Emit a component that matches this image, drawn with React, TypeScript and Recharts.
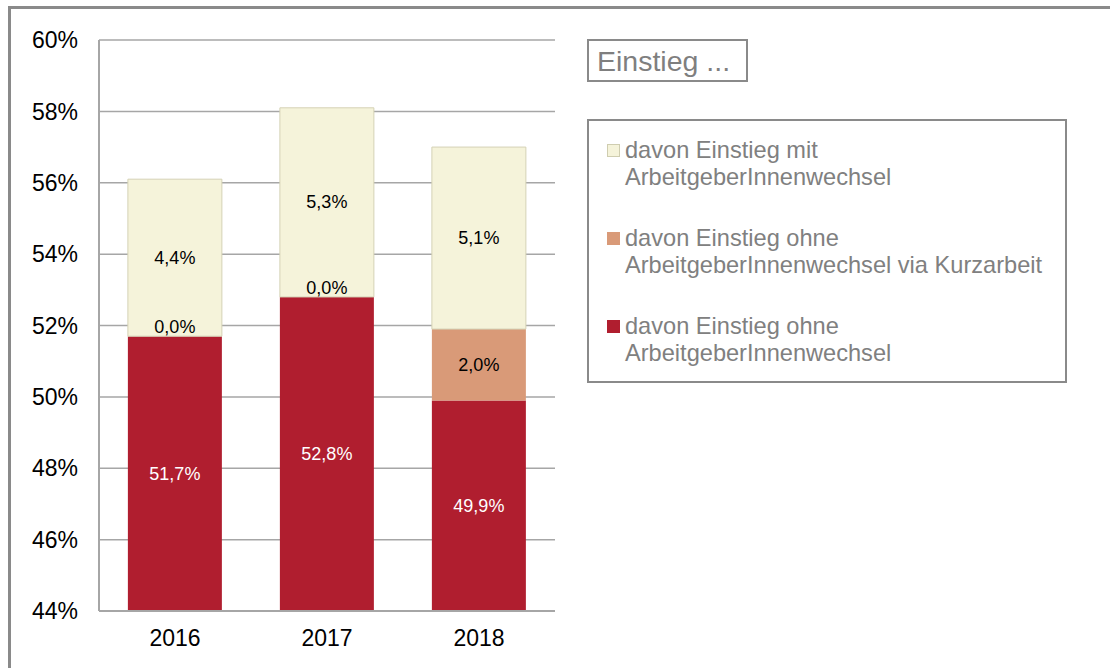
import React from "react";
import { BarChart, Bar, XAxis, YAxis, CartesianGrid, LabelList } from "recharts";

const years = ["2016", "2017", "2018"];
const ohneWechsel = [51.7, 52.8, 49.9];
const kurzarbeit = [0.0, 0.0, 2.0];
const mitWechsel = [4.4, 5.3, 5.1];
const yTicks = [44, 46, 48, 50, 52, 54, 56, 58, 60];
const yDomain = [44, 60];

const series = [
  { key: "mit", name: "davon Einstieg mit", name2: "ArbeitgeberInnenwechsel", color: "#f5f3da" },
  { key: "kurz", name: "davon Einstieg ohne", name2: "ArbeitgeberInnenwechsel via Kurzarbeit", color: "#d99a78" },
  { key: "ohne", name: "davon Einstieg ohne", name2: "ArbeitgeberInnenwechsel", color: "#b01e2f" },
];

const data = years.map((y, i) => ({
  year: y,
  ohne: ohneWechsel[i],
  kurz: kurzarbeit[i],
  mit: mitWechsel[i],
}));

const W = 1110;
const H = 668;
const margin = { top: 40, right: 555, bottom: 17, left: 39 };
const X_H = 40;
const plotTop = margin.top;
const plotBottom = H - margin.bottom - X_H;
const pxPerUnit = (plotBottom - plotTop) / (yDomain[1] - yDomain[0]);
const FONT = "'Liberation Sans', Arial, sans-serif";
const GRID = "#a6a6a6";

const fmt = (v: number) => v.toFixed(1).replace(".", ",") + "%";

function box(props: any) {
  const vb = props.viewBox ?? props;
  const x = Number(vb.x ?? props.x);
  const y = Number(vb.y ?? props.y);
  const w = Number(vb.width ?? props.width);
  const h = Number(vb.height ?? props.height);
  return { x, w, y0: Math.min(y, y + h), y1: Math.max(y, y + h) };
}

function valueText(cx: number, cy: number, value: number, color: string) {
  return (
    <text
      x={cx}
      y={cy}
      textAnchor="middle"
      dominantBaseline="central"
      fill={color}
      fontSize={18}
      fontFamily={FONT}
    >
      {fmt(value)}
    </text>
  );
}

// centred in the visible part of the segment
function makeLabel(color: string) {
  return (props: any) => {
    const b = box(props);
    const top = Math.max(b.y0, plotTop);
    const bottom = Math.min(b.y1, plotBottom);
    let cy = (top + bottom) / 2;
    if (bottom - top < 1) cy -= 9;
    return valueText(b.x + b.w / 2, cy, Number(props.value), color);
  };
}

// Kurzarbeit labels drawn with the top segment so they sit above it
function kurzLabel(props: any) {
  const b = box(props);
  const v = Number(props.value);
  const segH = v * pxPerUnit;
  let cy = b.y1 + segH / 2;
  if (segH < 1) cy -= 9;
  return valueText(b.x + b.w / 2, cy, v, "#000");
}

export default function App() {
  return (
    <div style={{ position: "absolute", left: 0, top: 0, width: W, height: H, overflow: "hidden", background: "#fff" }}>
      <div
        style={{
          position: "absolute",
          left: 8,
          top: 6,
          width: W,
          height: H + 20,
          borderLeft: "3px solid #8a8a8a",
          borderTop: "3px solid #8a8a8a",
        }}
      />
      <div style={{ position: "absolute", left: 0, top: 0 }}>
        <BarChart width={W} height={H} data={data} margin={margin} barCategoryGap="19%">
          <CartesianGrid vertical={false} stroke={GRID} strokeWidth={1.5} />
          <XAxis
            dataKey="year"
            height={X_H}
            tickLine={false}
            tickSize={0}
            tickMargin={19}
            axisLine={{ stroke: GRID, strokeWidth: 2 }}
            tick={{ fill: "#000", fontSize: 23, fontFamily: FONT }}
          />
          <YAxis
            domain={yDomain}
            ticks={yTicks}
            allowDataOverflow
            width={60}
            tickLine={false}
            tickSize={0}
            tickMargin={21}
            axisLine={{ stroke: GRID, strokeWidth: 2 }}
            tickFormatter={(v: number) => `${v}%`}
            tick={{ fill: "#000", fontSize: 23, fontFamily: FONT }}
          />
          <YAxis
            yAxisId="border"
            orientation="right"
            width={0}
            tick={false}
            tickLine={false}
            axisLine={{ stroke: GRID, strokeWidth: 2 }}
          />
          <Bar dataKey="ohne" stackId="a" fill="#b01e2f" isAnimationActive={false}>
            <LabelList dataKey="ohne" content={makeLabel("#fff")} />
          </Bar>
          <Bar dataKey="kurz" stackId="a" fill="#d99a78" isAnimationActive={false} />
          <Bar dataKey="mit" stackId="a" fill="#f5f3da" stroke="#d4d2b6" strokeWidth={1} isAnimationActive={false}>
            <LabelList dataKey="mit" content={makeLabel("#000")} />
            <LabelList dataKey="kurz" content={kurzLabel} />
          </Bar>
        </BarChart>
      </div>
      <div
        style={{
          position: "absolute",
          left: 587,
          top: 39,
          width: 149,
          height: 39,
          border: "2px solid #8a8a8a",
          color: "#7f7f7f",
          fontFamily: FONT,
          fontSize: 28.5,
          lineHeight: "40px",
          paddingLeft: 8,
          whiteSpace: "nowrap",
        }}
      >
        Einstieg ...
      </div>
      <div
        style={{
          position: "absolute",
          left: 587,
          top: 119,
          width: 476,
          height: 260,
          border: "2px solid #8a8a8a",
          fontFamily: FONT,
          color: "#808080",
          fontSize: 23.6,
        }}
      >
        {series.map((s, i) => (
          <div key={s.key} style={{ position: "absolute", left: 18, top: 16 + i * 88 }}>
            <div
              style={{
                position: "absolute",
                left: 0,
                top: 7,
                width: 13,
                height: 13,
                background: s.color,
                border: s.key === "mit" ? "1px solid #cfcdb0" : "none",
                boxSizing: "border-box",
              }}
            />
            <div style={{ position: "absolute", left: 18, top: 0, lineHeight: "27px", whiteSpace: "nowrap" }}>
              {s.name}
              <br />
              {s.name2}
            </div>
          </div>
        ))}
      </div>
    </div>
  );
}
